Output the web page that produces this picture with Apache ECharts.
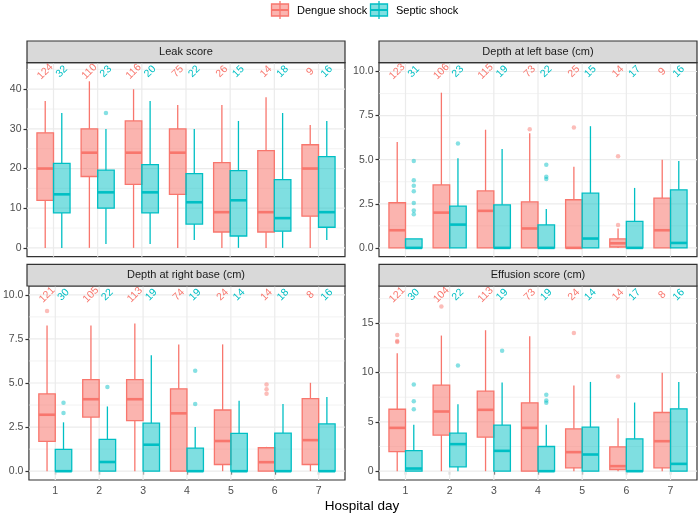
<!DOCTYPE html>
<html><head><meta charset="utf-8">
<script src="https://cdn.jsdelivr.net/npm/echarts@6/dist/echarts.min.js"></script>
<style>html,body{margin:0;padding:0;background:#fff}#c{width:700px;height:515px}</style>
</head><body><div id="c"></div>
<script>
// ---------- DATA ----------
const days = [1, 2, 3, 4, 5, 6, 7];
const groups = ['Dengue shock', 'Septic shock'];
const panelTitles = ['Leak score', 'Depth at left base (cm)', 'Depth at right base (cm)', 'Effusion score (cm)'];
const xTitle = 'Hospital day';

// each row: [lower whisker, Q1, median, Q3, upper whisker], days 1..7
const leakDengue = [[0,12,20,29,37],[0,18,24,30,42],[0,16,24,32,40],[0,13.5,24,30,36],[0,4,9,21.5,36],[0,4,9,24.5,38],[0,8,20,26,31]];
const leakSeptic = [[0,8.8,13.5,21.3,34],[1,10,14,19.6,30],[1,8.8,14,21,37],[2,6,11.5,18.7,30],[0,3,12,19.5,32],[0,4.2,7.5,17.2,34],[2,5.2,9,23,32]];
const leakDengueOut = [];
const leakSepticOut = [[2,34]];
const leakDengueN = [124,110,116,75,26,14,9];
const leakSepticN = [32,23,20,22,15,18,16];

const leftDengue = [[0,0,1.0,2.56,6.0],[0,0,2.0,3.57,8.8],[0,0,2.1,3.23,6.7],[0,0,1.1,2.61,6.5],[0,0,0,2.73,4.6],[0,0.05,0.26,0.51,1.1],[0,0,1.0,2.82,5.0]];
const leftSeptic = [[0,0,0,0.51,0.51],[0,0,1.32,2.37,5.08],[0,0,0,2.44,5.6],[0,0,0,1.3,2.2],[0,0,0.53,3.1,6.9],[0,0,0,1.5,3.4],[0,0,0.28,3.29,4.92]];
const leftDengueOut = [[4,6.73],[5,6.82],[6,5.2],[6,1.3]];
const leftSepticOut = [[1,4.92],[1,3.83],[1,3.52],[1,3.21],[1,2.54],[1,2.12],[1,1.9],[2,5.92],[4,4.72],[4,4.04],[4,3.91]];
const leftDengueN = [123,106,115,73,25,14,9];
const leftSepticN = [31,23,19,22,15,17,16];

const rightDengue = [[0,1.69,3.2,4.38,8.26],[0,3.07,4.08,5.19,8.26],[0,2.87,4.08,5.19,8.37],[0,0,3.28,4.67,7.19],[0,0.38,1.71,3.47,7.19],[0,0,0.51,1.33,1.38],[0,0.38,1.76,4.11,5.01]];
const rightSeptic = [[0,0,0,1.24,2.77],[0,0,0.52,1.8,3.67],[0,0,1.5,2.72,6.57],[0,0,0,1.31,2.51],[0,0,0,2.14,4.0],[0,0,0,2.16,3.81],[0,0,0,2.68,4.2]];
const rightDengueOut = [[1,9.08],[6,4.92],[6,4.65],[6,4.39]];
const rightSepticOut = [[1,3.88],[1,3.3],[2,4.78],[4,5.7],[4,3.81]];
const rightDengueN = [121,105,113,74,24,14,8];
const rightSepticN = [30,22,19,19,14,18,16];

const effDengue = [[0,1.99,4.39,6.28,11.96],[0,3.65,6.05,8.72,13.75],[0,3.45,6.22,8.11,14.29],[0,0,4.39,6.93,13.68],[0,0.34,1.93,4.29,8.68],[0,0.17,0.51,2.47,5.37],[0,0.34,3.04,5.95,9.97]];
const effSeptic = [[0,0,0.27,2.09,4.7],[0,0.44,2.74,3.85,6.79],[0,0,2.06,4.66,8.99],[0,0,0,2.5,4.7],[0,0,1.69,4.46,9.05],[0,0,0,3.28,6.96],[0,0,0.74,6.32,9.05]];
const effDengueOut = [[1,13.8],[1,13.2],[1,13.1],[2,16.7],[5,14.0],[6,9.6]];
const effSepticOut = [[1,8.78],[1,7.09],[1,6.28],[2,10.71],[3,12.2],[4,7.74],[4,7.16],[4,6.93]];
const effDengueN = [121,104,113,73,24,14,8];
const effSepticN = [30,22,19,19,14,17,16];

const leakTicks = [0, 10, 20, 30, 40];
const depthTicks = [0, 2.5, 5, 7.5, 10];
const effTicks = [0, 5, 10, 15];

// ---------- LAYOUT / STYLE ----------
const FONT = '"Liberation Sans", Arial, sans-serif';
const COLORS = ['#F8766D', '#00BFC4'];
const FILLS = ['rgba(248,118,109,0.55)', 'rgba(0,191,196,0.5)'];
const PTS = ['rgba(248,118,109,0.6)', 'rgba(0,191,196,0.6)'];
const X_MIN = 0.4, X_MAX = 7.6, DODGE = 0.75;
const PW = 318, PH = 194;
const rects = [
  {left: 27, top: 62.7}, {left: 379, top: 62.7},
  {left: 27, top: 286}, {left: 379, top: 286}
];
const STRIP_H = 21.7;

function maxOf(stats, outs) {
  let m = 0;
  stats.forEach(r => r.forEach(v => { if (v > m) m = v; }));
  outs.forEach(o => { if (o[1] > m) m = o[1]; });
  return m;
}

const panels = [
  {stats: [leakDengue, leakSeptic], outs: [leakDengueOut, leakSepticOut], ns: [leakDengueN, leakSepticN], ticks: leakTicks, top: 44.46, fmt: v => String(v)},
  {stats: [leftDengue, leftSeptic], outs: [leftDengueOut, leftSepticOut], ns: [leftDengueN, leftSepticN], ticks: depthTicks, top: 10, fmt: v => v.toFixed(1)},
  {stats: [rightDengue, rightSeptic], outs: [rightDengueOut, rightSepticOut], ns: [rightDengueN, rightSepticN], ticks: depthTicks, top: 10, fmt: v => v.toFixed(1)},
  {stats: [effDengue, effSeptic], outs: [effDengueOut, effSepticOut], ns: [effDengueN, effSepticN], ticks: effTicks, top: 17.88, fmt: v => String(v)}
];

const grid = [], xAxis = [], yAxis = [], series = [], graphic = [];

panels.forEach((p, pi) => {
  const r = rects[pi];
  const yMin = -0.05 * p.top, yMax = 1.05 * p.top;
  const step = p.ticks[1] - p.ticks[0];
  const minor = [];
  for (let v = p.ticks[0] - step / 2; v <= yMax; v += step) if (v >= yMin) minor.push(v);
  const bottomRow = pi >= 2;
  grid.push({left: r.left, top: r.top, width: PW, height: PH, show: true, borderColor: '#333333', borderWidth: 1.2, backgroundColor: '#fff', containLabel: false});
  xAxis.push({
    type: 'value', gridIndex: pi, min: X_MIN, max: X_MAX,
    axisLine: {show: false}, splitLine: {show: false},
    axisTick: {show: bottomRow, customValues: days, length: 3.5, lineStyle: {color: '#333333', width: 1.2}},
    axisLabel: {show: bottomRow, customValues: days, margin: 6, color: '#4D4D4D', fontSize: 10.5, fontFamily: FONT}
  });
  yAxis.push({
    type: 'value', gridIndex: pi, min: yMin, max: yMax,
    axisLine: {show: false}, splitLine: {show: false},
    axisTick: {show: true, customValues: p.ticks, length: 3.5, lineStyle: {color: '#333333', width: 1.2}},
    axisLabel: {show: true, customValues: p.ticks, margin: 5.5, color: '#4D4D4D', fontSize: 10.5, fontFamily: FONT, formatter: p.fmt}
  });
  // grid lines
  const gl = [].concat(p.ticks.map(v => [0, v]), minor.map(v => [1, v]), days.map(d => [2, d]));
  series.push({
    type: 'custom', xAxisIndex: pi, yAxisIndex: pi, z: 1, silent: true, data: gl,
    renderItem: (params, api) => {
      const cs = params.coordSys;
      const k = api.value(0), v = api.value(1);
      if (k === 2) {
        const pt = api.coord([v, yMin]);
        return {type: 'line', shape: {x1: pt[0], y1: cs.y, x2: pt[0], y2: cs.y + cs.height}, style: {stroke: '#EBEBEB', lineWidth: 1.2}};
      }
      const pt = api.coord([X_MIN, v]);
      return {type: 'line', shape: {x1: cs.x, y1: pt[1], x2: cs.x + cs.width, y2: pt[1]}, style: {stroke: '#EBEBEB', lineWidth: k === 0 ? 1.2 : 0.6}};
    }
  });
  [0, 1].forEach(gi => {
    const off = (gi === 0 ? -1 : 1) * DODGE / 4;
    const bw = DODGE / 2;
    const col = COLORS[gi];
    series.push({
      type: 'custom', name: groups[gi], xAxisIndex: pi, yAxisIndex: pi, z: 3,
      data: days.map((d, i) => [d].concat(p.stats[gi][i])),
      encode: {x: 0, y: [1, 2, 3, 4, 5]},
      renderItem: (params, api) => {
        const x = api.value(0) + off;
        const lo = api.coord([x, api.value(1)]);
        const q1 = api.coord([x, api.value(2)]);
        const md = api.coord([x, api.value(3)]);
        const q3 = api.coord([x, api.value(4)]);
        const hi = api.coord([x, api.value(5)]);
        const w = api.size([bw, 0])[0];
        const cx = lo[0];
        return {type: 'group', children: [
          {type: 'line', shape: {x1: cx, y1: q3[1], x2: cx, y2: hi[1]}, style: {stroke: col, lineWidth: 1.3}},
          {type: 'line', shape: {x1: cx, y1: q1[1], x2: cx, y2: lo[1]}, style: {stroke: col, lineWidth: 1.3}},
          {type: 'rect', shape: {x: cx - w / 2, y: q3[1], width: w, height: q1[1] - q3[1]}, style: {fill: FILLS[gi], stroke: col, lineWidth: 1.3}},
          {type: 'line', shape: {x1: cx - w / 2, y1: md[1], x2: cx + w / 2, y2: md[1]}, style: {stroke: col, lineWidth: 2.6}}
        ]};
      }
    });
    series.push({
      type: 'scatter', name: groups[gi], xAxisIndex: pi, yAxisIndex: pi, z: 4, silent: true,
      symbol: 'circle', symbolSize: 4.5,
      itemStyle: {color: PTS[gi]},
      data: p.outs[gi].map(o => [o[0] + off, o[1]])
    });
    series.push({
      type: 'custom', name: groups[gi], xAxisIndex: pi, yAxisIndex: pi, z: 5, silent: true,
      data: days.map((d, i) => [d, p.top, p.ns[gi][i]]),
      encode: {x: 0, y: 1},
      renderItem: (params, api) => {
        const pt = api.coord([api.value(0) + off, api.value(1)]);
        return {type: 'text', x: pt[0], y: pt[1], rotation: Math.PI / 4,
          style: {text: String(api.value(2)), fill: col, font: '10.5px ' + FONT, align: 'center', verticalAlign: 'middle'}};
      }
    });
  });
  // strip
  graphic.push({type: 'rect', shape: {x: r.left, y: r.top - STRIP_H, width: PW, height: STRIP_H}, style: {fill: '#D9D9D9', stroke: '#333333', lineWidth: 1.2}, z: 10});
  graphic.push({type: 'text', x: r.left + PW / 2, y: r.top - STRIP_H / 2, style: {text: panelTitles[pi], fill: '#1A1A1A', font: '11px ' + FONT, align: 'center', verticalAlign: 'middle'}, z: 11});
});

// legend
const legendPos = [{x: 271, tx: 297}, {x: 370, tx: 396}];
groups.forEach((g, gi) => {
  const lx = legendPos[gi].x, cx = lx + 9;
  graphic.push({type: 'line', shape: {x1: cx, y1: 1, x2: cx, y2: 19}, style: {stroke: COLORS[gi], lineWidth: 1.3}, z: 10});
  graphic.push({type: 'rect', shape: {x: lx + 0.5, y: 4, width: 17, height: 12}, style: {fill: FILLS[gi], stroke: COLORS[gi], lineWidth: 1.3}, z: 11});
  graphic.push({type: 'line', shape: {x1: lx + 0.5, y1: 10, x2: lx + 17.5, y2: 10}, style: {stroke: COLORS[gi], lineWidth: 2}, z: 12});
  graphic.push({type: 'text', x: legendPos[gi].tx, y: 10.5, style: {text: g, fill: '#000', font: '11px ' + FONT, align: 'left', verticalAlign: 'middle'}, z: 12});
});
graphic.push({type: 'text', x: 362, y: 506, style: {text: xTitle, fill: '#000', font: '13.5px ' + FONT, align: 'center', verticalAlign: 'middle'}, z: 12});

const chart = echarts.init(document.getElementById('c'));
chart.setOption({animation: false, backgroundColor: '#fff', grid, xAxis, yAxis, series, graphic});
</script></body></html>
